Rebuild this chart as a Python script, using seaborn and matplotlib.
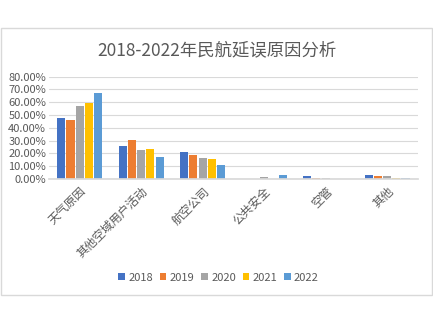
import matplotlib
matplotlib.use("Agg")
import matplotlib.pyplot as plt
import seaborn as sns
import pandas as pd
from matplotlib.patches import Rectangle
from matplotlib.ticker import PercentFormatter

categories = ["天气原因", "其他空域用户活动", "航空公司", "公共安全", "空管", "其他"]
years = ["2018", "2019", "2020", "2021", "2022"]
v2018 = [47.4, 26.0, 21.3, 0.0, 2.2, 3.0]
v2019 = [46.4, 30.2, 18.6, 0.0, 1.2, 2.1]
v2020 = [57.4, 22.6, 16.3, 1.3, 1.2, 2.1]
v2021 = [59.7, 23.4, 15.3, 0.0, 0.0, 0.9]
v2022 = [67.4, 17.4, 11.0, 3.3, 0.0, 1.1]
colors = ["#4472C4", "#ED7D31", "#A5A5A5", "#FFC000", "#5B9BD5"]

rows = []
for y, vals in zip(years, [v2018, v2019, v2020, v2021, v2022]):
    for c, v in zip(categories, vals):
        rows.append({"cat": c, "year": y, "val": v / 100})
df = pd.DataFrame(rows)

sns.set_theme(style="white")
plt.rcParams["font.family"] = ["Noto Sans CJK SC", "DejaVu Sans"]

fig = plt.figure(figsize=(4.33, 3.25), dpi=100)
fig.patch.set_facecolor("white")
fig.add_artist(Rectangle((0.003, 0.092), 0.994, 0.822, transform=fig.transFigure,
                         fill=False, edgecolor="#D9D9D9", linewidth=1.0))
ax = fig.add_axes([0.113, 0.449, 0.852, 0.315])
sns.barplot(data=df, x="cat", y="val", hue="year", palette=colors, ax=ax,
            width=0.75, edgecolor="white", linewidth=0.0, saturation=1, legend=True)
# thin white separation between adjacent bars (sides only)
for p in ax.patches:
    w = p.get_width()
    p.set_x(p.get_x() + w * 0.06)
    p.set_width(w * 0.88)
ax.set_ylim(0, 0.8)
ax.set_yticks([i / 10 for i in range(9)])
ax.yaxis.set_major_formatter(PercentFormatter(1.0, decimals=2))
ax.grid(axis="y", color="#D9D9D9", linewidth=0.8)
ax.set_axisbelow(True)
for s in ["top", "right", "left"]:
    ax.spines[s].set_visible(False)
ax.spines["bottom"].set_color("#D9D9D9")
ax.set_xlabel("")
ax.set_ylabel("")
ax.tick_params(axis="y", labelsize=8, labelcolor="#595959", length=0, pad=2)
ax.tick_params(axis="x", labelsize=8.5, labelcolor="#595959", length=0, pad=4)
for lab in ax.get_xticklabels():
    lab.set_rotation(45)
    lab.set_ha("right")
    lab.set_rotation_mode("anchor")
fig.text(0.5, 0.846, "2018-2022年民航延误原因分析", ha="center", va="center",
         fontsize=12.5, color="#595959")
ax.legend_.remove()
handles, labels = ax.get_legend_handles_labels()
fig.legend(handles[:5], labels[:5], loc="center", bbox_to_anchor=(0.505, 0.145), ncol=5,
           frameon=False, fontsize=8, labelcolor="#595959", handlelength=0.6, handleheight=0.6,
           handletextpad=0.3, columnspacing=0.6)
fig.savefig("out.png", dpi=100)
